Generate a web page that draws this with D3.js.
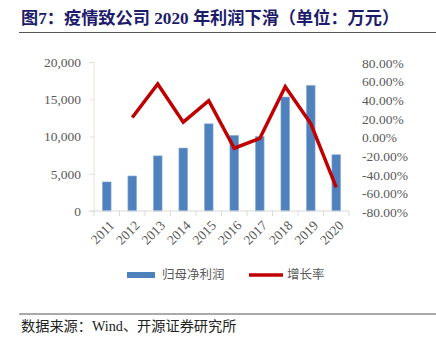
<!DOCTYPE html>
<html><head><meta charset="utf-8">
<script src="https://cdn.jsdelivr.net/npm/d3@7/dist/d3.min.js"></script>
<style>
body{margin:0;background:#fff;}
svg{display:block;}
</style></head>
<body>
<svg id="c" width="436" height="340"></svg>
<script>
const years = ["2011","2012","2013","2014","2015","2016","2017","2018","2019","2020"];
const profit = [3900, 4700, 7400, 8450, 11700, 10150, 10000, 15300, 16850, 7550];
const growth = [null, 21.5, 57.5, 16.5, 39.5, -11.5, -1.0, 54.5, 15.0, -53.5];
const leftTicks = [0, 5000, 10000, 15000, 20000];
const rightTicks = [-80, -60, -40, -20, 0, 20, 40, 60, 80];
const seriesNames = ["归母净利润", "增长率"];
const titleText = "图7：疫情致公司 2020 年利润下滑（单位：万元）";
const sourceText = "数据来源：Wind、开源证券研究所";

const svg = d3.select("#c");
const serif = "'Liberation Serif','Times New Roman',serif";
const cjk = "'Noto Sans CJK SC','Noto Sans CJK JP',sans-serif";
const L = 94, R = 349, T = 62, B = 211;

// title
svg.append("text").attr("x", 21).attr("y", 24)
  .attr("font-family", "'Liberation Serif','Noto Sans CJK SC',serif")
  .attr("font-weight", "bold").attr("font-size", 17.2).attr("fill", "#1c1c6b")
  .text(titleText);
svg.append("line").attr("x1", 19).attr("x2", 436).attr("y1", 32.5).attr("y2", 32.5)
  .attr("stroke", "#555").attr("stroke-width", 1.2);

const x = d3.scaleBand().domain(years).range([L, R]).paddingInner(0.66).paddingOuter(0.33);
const xb = d3.scaleBand().domain(years).range([L, R]);
const y = d3.scaleLinear().domain([0, 20000]).range([B, T]);
const y2 = d3.scaleLinear().domain([-80, 80]).range([B + 1, T + 1]);

// bars
svg.append("g").selectAll("rect").data(profit).join("rect")
  .attr("x", (d, i) => x(years[i]))
  .attr("y", d => y(d))
  .attr("width", x.bandwidth())
  .attr("height", d => B - y(d))
  .attr("fill", "#4f81bd").attr("stroke", "#8eafd8").attr("stroke-width", 0.6);

// left axis
const gl = svg.append("g").attr("transform", `translate(${L},0)`)
  .call(d3.axisLeft(y).tickValues(leftTicks).tickSize(5).tickPadding(8).tickFormat(d3.format(",")));
gl.select(".domain").attr("stroke", "#e6e2d3").attr("d", `M0,${T}V${B}`);
gl.selectAll(".tick line").attr("stroke", "#e6e2d3").attr("x1", -5).attr("x2", 0);
gl.selectAll("text").attr("font-family", serif).attr("font-size", 13.5).attr("fill", "#595959");

// bottom axis
const gb = svg.append("g").attr("transform", `translate(0,${B})`);
gb.append("line").attr("x1", L - 4).attr("x2", R).attr("y1", 0).attr("y2", 0).attr("stroke", "#d9d9d9");
gb.selectAll(".tk").data(years.concat(["end"])).join("line")
  .attr("x1", (d, i) => L + i * xb.bandwidth()).attr("x2", (d, i) => L + i * xb.bandwidth())
  .attr("y1", 0).attr("y2", 5).attr("stroke", "#d9d9d9");
gb.selectAll(".lbl").data(years).join("text")
  .attr("transform", d => `translate(${xb(d) + xb.bandwidth() / 2 + 5},${12}) rotate(-45)`)
  .attr("text-anchor", "end").attr("dy", "0.35em")
  .attr("font-family", serif).attr("font-size", 13.5).attr("fill", "#595959").text(d => d);

// right axis
const gr = svg.append("g").attr("transform", `translate(${R},0)`)
  .call(d3.axisRight(y2).tickValues(rightTicks).tickSize(0).tickPadding(13).tickFormat(d => d.toFixed(2) + "%"));
gr.select(".domain").remove();
gr.selectAll("text").attr("font-family", serif).attr("font-size", 13.5).attr("fill", "#595959");

// line
const line = d3.line().defined(d => d != null)
  .x((d, i) => xb(years[i]) + xb.bandwidth() / 2).y(d => y2(d));
svg.append("path").datum(growth).attr("d", line)
  .attr("fill", "none").attr("stroke", "#c00000").attr("stroke-width", 3.5).attr("stroke-linejoin", "miter");

// legend
const lg = svg.append("g");
lg.append("rect").attr("x", 127).attr("y", 272).attr("width", 28).attr("height", 6).attr("fill", "#4f81bd");
lg.append("text").attr("x", 162).attr("y", 275).attr("dy", "0.35em").attr("font-family", cjk)
  .attr("font-size", 12.5).attr("fill", "#595959").text(seriesNames[0]);
lg.append("line").attr("x1", 249).attr("x2", 283).attr("y1", 275).attr("y2", 275)
  .attr("stroke", "#c00000").attr("stroke-width", 3.5);
lg.append("text").attr("x", 287).attr("y", 275).attr("dy", "0.35em").attr("font-family", cjk)
  .attr("font-size", 12.5).attr("fill", "#595959").text(seriesNames[1]);

// source
svg.append("line").attr("x1", 19).attr("x2", 436).attr("y1", 314).attr("y2", 314)
  .attr("stroke", "#555").attr("stroke-width", 1);
svg.append("text").attr("x", 21).attr("y", 331)
  .attr("font-family", "'Liberation Serif','Noto Sans CJK SC',serif")
  .attr("font-size", 14.2).attr("fill", "#222").text(sourceText);
</script>
</body></html>
